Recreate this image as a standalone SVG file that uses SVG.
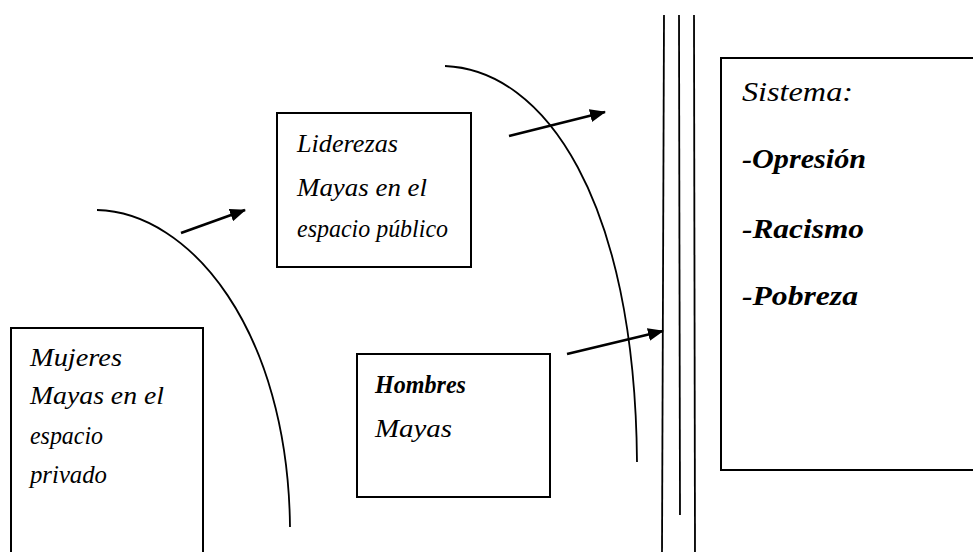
<svg xmlns="http://www.w3.org/2000/svg" width="973" height="552" viewBox="0 0 973 552">
<style>
.box{fill:#fff;stroke:#000;stroke-width:2}
.t{font-family:"Liberation Serif",serif;font-style:italic;font-size:25px;fill:#000}
.b{font-weight:bold}
.s{font-size:28px}
.ln{fill:none;stroke:#000;stroke-width:1.8}
.ar{fill:none;stroke:#000;stroke-width:2.6}
</style>
<defs>
<marker id="ah" markerWidth="16" markerHeight="13" refX="15" refY="6.5" orient="auto" markerUnits="userSpaceOnUse" viewBox="0 0 16 13">
<path d="M0,0 L16,6.5 L0,13 Z" fill="#000"/>
</marker>
</defs>
<rect width="973" height="552" fill="#fff"/>
<g id="mujeres">
<path class="box" d="M11,553 V328 H203 V553"/>
<text class="t" x="30" y="366" textLength="92" lengthAdjust="spacingAndGlyphs">Mujeres</text>
<text class="t" x="30" y="404" textLength="134" lengthAdjust="spacingAndGlyphs">Mayas en el</text>
<text class="t" x="30" y="444" textLength="73" lengthAdjust="spacingAndGlyphs">espacio</text>
<text class="t" x="30" y="483" textLength="77" lengthAdjust="spacingAndGlyphs">privado</text>
</g>
<g id="liderezas">
<rect class="box" x="277" y="113" width="194" height="154"/>
<text class="t" x="297" y="152" textLength="101" lengthAdjust="spacingAndGlyphs">Liderezas</text>
<text class="t" x="297" y="196" textLength="130" lengthAdjust="spacingAndGlyphs">Mayas en el</text>
<text class="t" x="297" y="237" textLength="151" lengthAdjust="spacingAndGlyphs">espacio público</text>
</g>
<g id="hombres">
<rect class="box" x="357" y="354" width="193" height="143"/>
<text class="t b" x="375" y="393" textLength="91" lengthAdjust="spacingAndGlyphs">Hombres</text>
<text class="t" x="375" y="437" textLength="77" lengthAdjust="spacingAndGlyphs">Mayas</text>
</g>
<g id="sistema">
<path class="box" d="M973,58 H721 V470 H973"/>
<text class="t s" x="742" y="101" textLength="111" lengthAdjust="spacingAndGlyphs">Sistema:</text>
<text class="t s b" x="742" y="168" textLength="124" lengthAdjust="spacingAndGlyphs">-Opresión</text>
<text class="t s b" x="742" y="238" textLength="122" lengthAdjust="spacingAndGlyphs">-Racismo</text>
<text class="t s b" x="742" y="305" textLength="116" lengthAdjust="spacingAndGlyphs">-Pobreza</text>
</g>
<g id="barrera">
<line class="ln" x1="664" y1="15" x2="662" y2="552"/>
<line class="ln" x1="679" y1="15" x2="680" y2="515"/>
<line class="ln" x1="694" y1="15" x2="695" y2="552"/>
</g>
<g id="connectors">
<path class="ln" d="M97,210 C190,212 288,330 290,527"/>
<path class="ln" d="M445,66 C545,70 635,200 637,462"/>
<line class="ar" x1="181" y1="233" x2="245" y2="210" marker-end="url(#ah)"/>
<line class="ar" x1="509" y1="136" x2="605" y2="112" marker-end="url(#ah)"/>
<line class="ar" x1="567" y1="354" x2="663" y2="331" marker-end="url(#ah)"/>
</g>
</svg>
